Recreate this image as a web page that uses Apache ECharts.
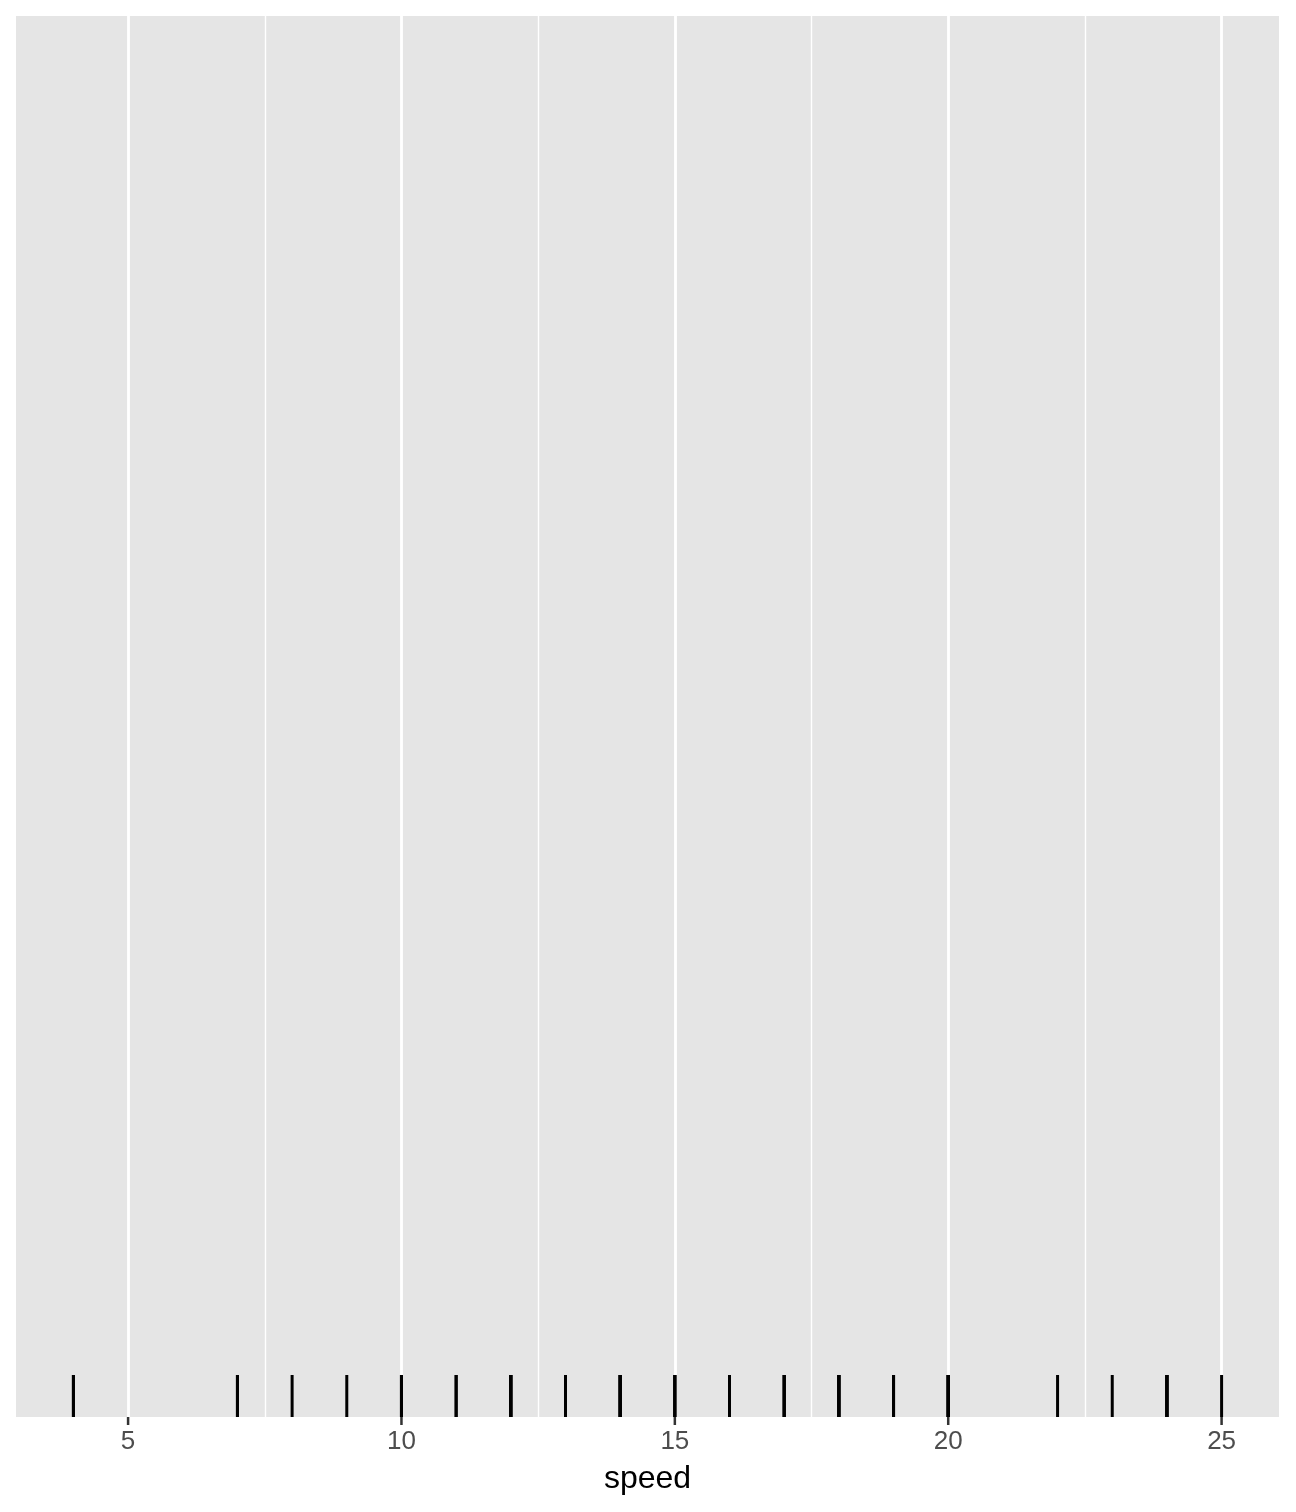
<!DOCTYPE html>
<html>
<head>
<meta charset="utf-8">
<script src="https://cdn.jsdelivr.net/npm/echarts@6/dist/echarts.min.js"></script>
<style>
html,body{margin:0;padding:0;background:#fff;}
#chart{width:1296px;height:1512px;}
</style>
</head>
<body>
<div id="chart"></div>
<script>
// cars$speed values (rug marks)
const speedValues = [4,4,7,7,8,9,10,10,10,11,11,12,12,12,12,13,13,13,13,14,14,14,14,15,15,15,16,16,17,17,17,18,18,18,18,19,19,19,20,20,20,20,20,22,23,24,24,24,24,25];
const majorTicks = [5,10,15,20,25];
const minorTicks = [7.5,12.5,17.5,22.5];
const xMin = 2.95, xMax = 26.05;

const chart = echarts.init(document.getElementById('chart'), null, {renderer:'canvas'});
const FONT = 'Liberation Sans, Arial, Helvetica, sans-serif';

function vLines(vals, width){
  return vals.map(v => ({xAxis: v, lineStyle:{color:'#ffffff', width: width, type:'solid'}}));
}

chart.setOption({
  backgroundColor:'#ffffff',
  animation:false,
  grid:{left:16, right:17, top:16, bottom:95, show:true, backgroundColor:'#E5E5E5', borderWidth:0, containLabel:false},
  xAxis:{
    type:'value', min:xMin, max:xMax,
    axisLine:{show:false},
    splitLine:{show:false},
    axisTick:{show:false},
    axisLabel:{show:true, customValues:majorTicks, color:'#4D4D4D', fontSize:26, fontFamily:FONT, margin:12, lineHeight:26},
    name:'speed', nameLocation:'middle', nameGap:46,
    nameTextStyle:{color:'#000000', fontSize:32, fontFamily:FONT, lineHeight:32}
  },
  yAxis:{type:'value', min:0, max:1, show:false, splitLine:{show:false}},
  series:[
    {
      type:'line', data:[], silent:true, z:1,
      markLine:{silent:true, symbol:['none','none'], label:{show:false}, animation:false, z:1,
        data: vLines(minorTicks,1.4).concat(vLines(majorTicks,2.8))}
    },
    {
      type:'custom', z:5, clip:false, silent:true,
      data: majorTicks.map(v => [v]),
      encode:{x:0},
      renderItem:function(params, api){
        const p0 = api.coord([api.value(0), 0]);
        return {type:'line', shape:{x1:p0[0], y1:p0[1], x2:p0[0], y2:p0[1]+8},
          style:{stroke:'#333333', lineWidth:2.5}};
      }
    },
    {
      type:'custom', z:5,
      data: speedValues.map(v => [v]),
      encode:{x:0},
      renderItem:function(params, api){
        const x = api.value(0);
        const p0 = api.coord([x, 0]);
        const p1 = api.coord([x, 0.03]);
        return {type:'line', shape:{x1:p0[0], y1:p0[1], x2:p1[0], y2:p1[1]},
          style:{stroke:'#000000', lineWidth:3}};
      }
    }
  ]
});
</script>
</body>
</html>
